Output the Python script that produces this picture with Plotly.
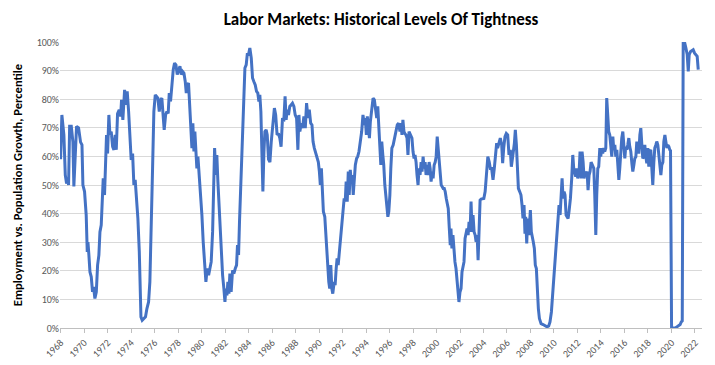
import plotly.graph_objects as go

# ---- data (decimal year, percentile %) ----
years_a = [1968.00, 1968.11, 1968.28, 1968.40, 1968.51, 1968.62, 1968.68, 1968.77, 1968.91, 1969.05,
           1969.13, 1969.25, 1969.36, 1969.53, 1969.70, 1969.82, 1969.90, 1970.04, 1970.18, 1970.27,
           1970.33, 1970.41, 1970.50, 1970.61, 1970.72, 1970.81, 1970.92, 1971.04, 1971.15, 1971.26,
           1971.35, 1971.46, 1971.55, 1971.63, 1971.74, 1971.83, 1971.91, 1972.00, 1972.11, 1972.20,
           1972.31, 1972.43, 1972.54, 1972.65, 1972.74, 1972.85, 1972.99, 1973.11, 1973.19, 1973.30,
           1973.45, 1973.56, 1973.67, 1973.79, 1973.90, 1974.01, 1974.13, 1974.24, 1974.35, 1974.47,
           1974.58, 1974.70, 1974.78, 1974.84, 1974.95, 1975.09, 1975.23, 1975.35, 1975.49, 1975.60,
           1975.72, 1975.83, 1975.94, 1976.06, 1976.17, 1976.28, 1976.40, 1976.51, 1976.62, 1976.74,
           1976.82, 1976.94, 1977.05, 1977.16, 1977.25, 1977.36, 1977.48, 1977.59, 1977.70, 1977.82,
           1977.93, 1978.04, 1978.16, 1978.27, 1978.38, 1978.50, 1978.61, 1978.70, 1978.78, 1978.89,
           1978.98, 1979.09, 1979.18, 1979.26, 1979.35, 1979.43, 1979.52, 1979.60, 1979.69, 1979.80,
           1979.91, 1980.03, 1980.14, 1980.26, 1980.37, 1980.48, 1980.60, 1980.71, 1980.82, 1980.94,
           1981.02, 1981.11, 1981.22, 1981.30, 1981.39, 1981.48, 1981.59, 1981.67, 1981.79, 1981.90,
           1981.99, 1982.07, 1982.16, 1982.24, 1982.33, 1982.41, 1982.52, 1982.64, 1982.75, 1982.87,
           1982.98, 1983.06, 1983.15, 1983.23, 1983.35, 1983.46, 1983.57, 1983.69, 1983.80, 1983.89,
           1984.00, 1984.11, 1984.23, 1984.34, 1984.45, 1984.57, 1984.68, 1984.79, 1984.88, 1984.96,
           1985.05, 1985.13, 1985.22, 1985.31, 1985.39, 1985.50, 1985.59, 1985.70, 1985.82, 1985.93]
pct_a = [59, 74.5, 67.5, 53.5, 50.5, 52.3, 50, 70.5, 70.5, 65,
         49.5, 59, 70.5, 70, 65, 64, 50, 47.7, 39.5, 26.6,
         30, 25.5, 19.6, 17.9, 12.6, 14.4, 10.3, 12.6, 22, 25.5,
         33.6, 36, 46.5, 52.3, 46.5, 59, 67.5, 61, 74.5, 67.5,
         68.7, 63.4, 62.3, 67.5, 62.3, 75, 76.3, 74, 79.8, 72.8,
         83.3, 78, 82.7, 75.7, 67.5, 58.8, 61, 50, 51.8, 45.3,
         38.3, 26.6, 13.8, 3.9, 2.7, 3.3, 3.9, 6.8, 9.1, 16.1,
         32.5, 55.8, 75.7, 81.5, 81, 80.4, 75.7, 79.8, 80.4, 73.4,
         69.3, 74.5, 75.7, 75, 82.1, 79.2, 86.2, 90.3, 92.6, 92,
         88.6, 89.7, 91.5, 88.6, 89.7, 89.1, 86.2, 82.1, 85, 85.6,
         79.2, 69.9, 62.9, 71.6, 61.7, 68.7, 62.9, 55.8, 59.9, 53.5,
         48.8, 39.5, 30.1, 20.8, 16.1, 20.8, 18.5, 20.8, 23.1, 33.6,
         53.5, 62.9, 53.5, 60.5, 51.2, 43, 34.8, 27.8, 18.5, 13.8,
         9.1, 13.8, 11.4, 16.1, 12, 19, 12.6, 20.2, 19, 20.8,
         22, 29, 25.5, 37.1, 50, 64, 79.2, 90.9, 92, 95.6,
         95.6, 97.9, 94.4, 87.4, 86.2, 85, 82.7, 82.1, 79.2, 81.5,
         75.7, 60.5, 47.7, 61.7, 68.7, 69.3, 67.5, 59, 58, 65]

years_b = [1986.00, 1986.20, 1986.31, 1986.43, 1986.54, 1986.66, 1986.77, 1986.89, 1987.00, 1987.11,
           1987.20, 1987.29, 1987.40, 1987.51, 1987.63, 1987.74, 1987.86, 1987.97, 1988.09, 1988.20,
           1988.29, 1988.37, 1988.49, 1988.60, 1988.71, 1988.83, 1988.94, 1989.06, 1989.17, 1989.29,
           1989.40, 1989.49, 1989.60, 1989.71, 1989.83, 1989.94, 1990.03, 1990.11, 1990.20, 1990.29,
           1990.37, 1990.49, 1990.57, 1990.66, 1990.74, 1990.83, 1990.91, 1991.00, 1991.09, 1991.17,
           1991.29, 1991.37, 1991.46, 1991.54, 1991.63, 1991.71, 1991.80, 1991.89, 1991.97, 1992.06,
           1992.14, 1992.23, 1992.31, 1992.40, 1992.49, 1992.57, 1992.66, 1992.74, 1992.83, 1992.91,
           1993.00, 1993.09, 1993.20, 1993.29, 1993.40, 1993.51, 1993.63, 1993.74, 1993.86, 1993.94,
           1994.03, 1994.11, 1994.20, 1994.29, 1994.37, 1994.49, 1994.60, 1994.71, 1994.83, 1994.91,
           1995.00, 1995.09, 1995.17, 1995.26, 1995.34, 1995.43, 1995.51, 1995.60, 1995.69, 1995.77,
           1995.86, 1995.94, 1996.03, 1996.11, 1996.20, 1996.31, 1996.43, 1996.54, 1996.66, 1996.77,
           1996.89, 1996.97, 1997.06, 1997.14, 1997.23, 1997.31, 1997.40, 1997.49, 1997.57, 1997.66,
           1997.74, 1997.83, 1997.91, 1998.00, 1998.09, 1998.17, 1998.26, 1998.34, 1998.43, 1998.51,
           1998.60, 1998.69, 1998.77, 1998.86, 1998.94, 1999.03, 1999.11, 1999.20, 1999.29, 1999.37,
           1999.46, 1999.54, 1999.63, 1999.71, 1999.80, 1999.89, 1999.97, 2000.06, 2000.14, 2000.23,
           2000.31, 2000.40, 2000.49, 2000.57, 2000.66, 2000.74, 2000.83, 2000.91, 2001.00, 2001.09,
           2001.17, 2001.23, 2001.31, 2001.40, 2001.49, 2001.57, 2001.66, 2001.74, 2001.83, 2001.91,
           2002.00, 2002.09, 2002.17, 2002.26, 2002.34, 2002.43, 2002.51, 2002.60, 2002.69, 2002.77,
           2002.86, 2002.94, 2003.03, 2003.11, 2003.20, 2003.29, 2003.37, 2003.46, 2003.54, 2003.63,
           2003.71, 2003.80, 2003.91, 2004.03, 2004.14, 2004.26, 2004.37, 2004.49]
pct_b = [67.5, 76.9, 74.5, 67.5, 68, 66.4, 63.4, 73.4, 72.2, 81,
         72.8, 76.3, 74.5, 77.5, 78, 78.6, 77.5, 74.5, 73.4, 62.3,
         74.5, 68.7, 71.6, 69.9, 74, 69.9, 78.6, 73.4, 76.3, 71.6,
         71, 65.2, 62.9, 61, 59.9, 58, 54.7, 50, 55.8, 46.5,
         40.7, 38.9, 32.5, 27.8, 20.8, 16.1, 13.8, 22, 13.8, 12,
         16.1, 15, 20.8, 24.3, 22, 25.5, 30.1, 32.5, 36, 39.5,
         45.3, 44.2, 51.2, 44.2, 54.7, 46.5, 55.3, 51.2, 53.5, 46.5,
         51.2, 57, 59.3, 59.9, 61.7, 65.2, 68.7, 74.5, 71, 73.4,
         67.5, 74, 68.7, 66.4, 72.2, 78, 80.4, 79.8, 76.9, 73.4,
         77.5, 72.2, 64, 57, 65.2, 60.5, 57, 50, 46.5, 41.8,
         38.9, 40.7, 46.5, 55.8, 62.9, 64, 66.4, 68.7, 71, 71.6,
         68.7, 71.6, 67.5, 72.8, 68.7, 68, 67.5, 66.4, 60.5, 68.7,
         68, 67.5, 66.4, 61.7, 59.3, 60.5, 58, 53.5, 50, 55.8,
         53.5, 58, 54.7, 59.9, 55.8, 58, 53.5, 57, 53.5, 58,
         55.8, 51.2, 54.7, 52.3, 57, 58, 59.9, 66.9, 62.9, 55.8,
         53.5, 50, 49.4, 48.8, 48.8, 47.7, 45.3, 43, 41.8, 34.8,
         29, 34.8, 27.8, 32.5, 26.6, 23.1, 20.8, 17.3, 13.8, 9.1,
         12.6, 13.8, 19.6, 22, 23.1, 31.3, 33.6, 34.8, 32.5, 37.1,
         33.6, 44.2, 33.6, 39.5, 33.6, 32.5, 30.1, 32.5, 23.7, 33.6,
         44.7, 45.1, 45.3, 45.3, 47.7, 55.8, 59.9, 58]

years_c = [2004.58, 2004.69, 2004.81, 2004.92, 2005.03, 2005.12, 2005.20, 2005.32, 2005.43, 2005.55,
           2005.63, 2005.72, 2005.83, 2005.94, 2006.06, 2006.17, 2006.28, 2006.37, 2006.45, 2006.54,
           2006.63, 2006.71, 2006.80, 2006.88, 2006.97, 2007.08, 2007.19, 2007.28, 2007.36, 2007.45,
           2007.53, 2007.59, 2007.68, 2007.76, 2007.85, 2007.93, 2007.99, 2008.07, 2008.16, 2008.24,
           2008.33, 2008.41, 2008.50, 2008.59, 2008.67, 2008.76, 2008.90, 2009.07, 2009.24, 2009.41,
           2009.55, 2009.66, 2009.78, 2009.89, 2010.01, 2010.12, 2010.23, 2010.35, 2010.43, 2010.52,
           2010.60, 2010.69, 2010.77, 2010.86, 2010.94, 2011.03, 2011.11, 2011.20, 2011.28, 2011.40,
           2011.51, 2011.60, 2011.68, 2011.77, 2011.85, 2011.94, 2012.02, 2012.14, 2012.22, 2012.31,
           2012.39, 2012.48, 2012.56, 2012.65, 2012.73, 2012.82, 2012.90, 2012.99, 2013.07, 2013.16,
           2013.27, 2013.39, 2013.47, 2013.56, 2013.64, 2013.73, 2013.81, 2013.90, 2013.98, 2014.07,
           2014.15, 2014.24, 2014.32, 2014.41, 2014.49, 2014.58, 2014.66, 2014.75, 2014.83, 2014.92,
           2015.01, 2015.09, 2015.18, 2015.26, 2015.35, 2015.43, 2015.52, 2015.60, 2015.69, 2015.77,
           2015.86, 2015.94, 2016.03, 2016.11, 2016.20, 2016.28, 2016.37, 2016.45, 2016.54, 2016.63,
           2016.71, 2016.80, 2016.88, 2016.97, 2017.05, 2017.14, 2017.22, 2017.31, 2017.39, 2017.48,
           2017.56, 2017.65, 2017.73, 2017.82, 2017.90, 2017.99, 2018.07, 2018.16, 2018.24, 2018.33,
           2018.41, 2018.50, 2018.58, 2018.67, 2018.75, 2018.84, 2018.93, 2019.01, 2019.10, 2019.18,
           2019.27, 2019.35, 2019.44, 2019.52, 2019.61, 2019.69, 2019.78, 2019.86, 2019.92, 2020.01,
           2020.15, 2020.32, 2020.46, 2020.60, 2020.74, 2020.83, 2020.92, 2021.00, 2021.11, 2021.23,
           2021.34, 2021.43, 2021.51, 2021.63, 2021.74, 2021.85, 2021.97, 2022.08, 2022.19, 2022.28]
pct_c = [55.8, 55.8, 51.8, 55.8, 60.5, 64.6, 62.9, 65.2, 66.4, 64,
         57.6, 62.9, 66.9, 68, 67.5, 60.5, 62.3, 56.4, 59.9, 61.7,
         64.6, 69.3, 64, 58.8, 48.8, 47.7, 46.5, 43, 38.3, 43,
         33, 38.9, 29.6, 38.3, 32.5, 37.1, 41.2, 33.6, 30.7, 30.1,
         27.8, 22, 20.8, 11.4, 6.8, 3.3, 1.5, 1.2, 0.9, 0.4,
         0.7, 2.1, 5.6, 11.4, 18.5, 24.3, 30.1, 38.9, 43, 39.5,
         44.2, 52.3, 45.3, 47.7, 46.5, 39.5, 38.9, 38.3, 40.7, 45.3,
         52.3, 60.5, 55.8, 53.5, 52.9, 55.8, 52.3, 54.7, 61.7, 52.3,
         61.7, 58, 52.3, 54.7, 53.5, 54.7, 48.2, 53.5, 54.7, 58,
         57, 55.8, 46.5, 32.5, 46.5, 55.8, 56.4, 62.9, 59.9, 62.9,
         61, 62.9, 61.7, 62.9, 80.4, 72.8, 68.7, 67.5, 64, 59.9,
         66.9, 62.3, 64, 59.9, 62.3, 58, 51.8, 55.8, 62.3, 66.4,
         68.7, 64, 59.3, 63.4, 62.3, 64, 66.4, 63.4, 61.7, 57.6,
         54.7, 57, 59.3, 59.9, 65.2, 62.9, 61, 67.5, 69.9, 64,
         59.3, 59.9, 64, 59.9, 57.6, 62.9, 56.4, 61.7, 62.3, 55.8,
         50, 58, 62.9, 64, 65.2, 64, 59.3, 57, 53.5, 57,
         58, 65.2, 67.5, 65.2, 62.9, 64, 63.4, 62.3, 62, 0,
         0, 0, 0.4, 0.7, 1.2, 2.1, 2.5, 100, 100, 97.9,
         95.6, 89.7, 95.6, 96.7, 97, 97.3, 96.1, 95.6, 95, 90.3]

tick_years = list(range(1968, 2023, 2))
tick_labels = [str(y) for y in tick_years]
pct_ticks = list(range(0, 101, 10))
pct_labels = [f"{p}%" for p in pct_ticks]

title_text = "Labor Markets: Historical Levels Of Tightness"
y_title = "Employment vs. Population Growth, Percentile"

years = years_a + years_b + years_c
pct = pct_a + pct_b + pct_c

fig = go.Figure()
fig.add_trace(go.Scatter(
    x=years, y=pct, mode="lines",
    line=dict(color="#4472C4", width=3),
    hoverinfo="skip", showlegend=False,
))

font_family = "Carlito, Lato, 'Open Sans', sans-serif"

# the page shows the figure with an 8px body margin, so the figure is sized
# to fit the 715x365 window after that offset
fig.update_layout(
    width=707, height=357,
    margin=dict(l=52, r=13, t=34, b=37),
    paper_bgcolor="white", plot_bgcolor="white",
    font=dict(family=font_family, color="#595959", size=10),
    title=dict(text="<b>" + title_text + "</b>", x=0.5, xanchor="center",
               xref="paper", y=0.97, yanchor="middle", automargin=False,
               font=dict(size=17, color="#000000", family=font_family)),
    xaxis=dict(
        range=[1967.95, 2022.6], automargin=False,
        tickmode="array", tickvals=tick_years, ticktext=tick_labels,
        tickangle=-45, tickfont=dict(size=10, color="#595959"),
        showgrid=False, zeroline=False,
        showline=True, linecolor="#BFBFBF", linewidth=1,
        ticks="outside", ticklen=4, tickcolor="#BFBFBF",
    ),
    yaxis=dict(
        range=[0, 100], automargin=False,
        tickmode="array", tickvals=pct_ticks, ticktext=pct_labels,
        tickfont=dict(size=10, color="#595959"),
        showgrid=True, gridcolor="#D9D9D9", gridwidth=1,
        zeroline=False, showline=False, ticks="",
        title=dict(text="<b>" + y_title + "</b>", standoff=11,
                   font=dict(size=12.5, color="#000000", family=font_family)),
    ),
)

fig.write_html("out.html")
